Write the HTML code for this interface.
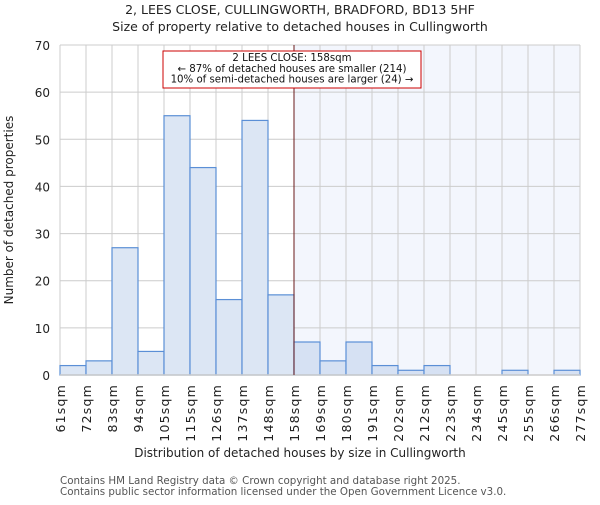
<!DOCTYPE html>
<html><head><meta charset="utf-8"><style>
body{margin:0;background:#fff;}
svg text{font-family:"DejaVu Sans","Liberation Sans",sans-serif;}
</style></head><body>
<svg id="chart" width="600" height="500" xmlns="http://www.w3.org/2000/svg">
<text x="300" y="14" text-anchor="middle" font-size="12.5" fill="#222">2, LEES CLOSE, CULLINGWORTH, BRADFORD, BD13 5HF</text>
<text x="300" y="31" text-anchor="middle" font-size="12.5" fill="#222">Size of property relative to detached houses in Cullingworth</text>
<g id="plot"></g>
<text x="300" y="457" text-anchor="middle" font-size="12" fill="#222">Distribution of detached houses by size in Cullingworth</text>
<text transform="translate(13,210) rotate(-90)" text-anchor="middle" font-size="12" fill="#222">Number of detached properties</text>
<text x="60" y="484" font-size="10.3" fill="#555">Contains HM Land Registry data © Crown copyright and database right 2025.</text>
<text x="60" y="495" font-size="10.3" fill="#555">Contains public sector information licensed under the Open Government Licence v3.0.</text>
</svg>
<script>
const edgeLabels=["61sqm","72sqm","83sqm","94sqm","105sqm","115sqm","126sqm","137sqm","148sqm","158sqm","169sqm","180sqm","191sqm","202sqm","212sqm","223sqm","234sqm","245sqm","255sqm","266sqm","277sqm"];
const counts=[2,3,27,5,55,44,16,54,17,7,3,7,2,1,2,0,0,1,0,1];
const yTicks=[0,10,20,30,40,50,60,70];
const markerIndex=9;
const X0=60,X1=580,Y0=375,Y1=45,YMAX=70;
const NS="http://www.w3.org/2000/svg";
const g=document.getElementById('plot');
const xs=i=>X0+(X1-X0)*i/counts.length;
const ys=v=>Y0-(Y0-Y1)*v/YMAX;
function mk(t,a){const e=document.createElementNS(NS,t);for(const k in a)e.setAttribute(k,a[k]);g.appendChild(e);return e;}
let e=mk('rect',{x:xs(markerIndex),y:Y1,width:X1-xs(markerIndex),height:Y0-Y1,fill:'#f3f6fd'});


yTicks.forEach(t=>{const l=mk('line',{x1:X0,x2:X1,y1:ys(t),y2:ys(t),stroke:'#ccc','stroke-width':1});


const tx=mk('text',{x:X0-10,y:ys(t)+5,'text-anchor':'end','font-size':'12',fill:'#222'});tx.textContent=t;

});
edgeLabels.forEach((s,i)=>{const l=mk('line',{x1:xs(i),x2:xs(i),y1:Y1,y2:Y0,stroke:'#ccc','stroke-width':1});


const tx=mk('text',{transform:`translate(${xs(i)+5},${Y0+9}) rotate(-90)`,'text-anchor':'end','font-size':'12.5','letter-spacing':'1.2',fill:'#222'});tx.textContent=s;

});
counts.forEach((v,i)=>{if(v<=0)return;const r=mk('rect',{x:xs(i),y:ys(v),width:xs(1)-xs(0),height:Y0-ys(v),fill:i>=markerIndex?'#d6e1f3':'#dce6f4',stroke:'#5b8fd6','stroke-width':1.2});

});
e=mk('line',{x1:X0,x2:X1,y1:Y0,y2:Y0,stroke:'#ccc','stroke-width':1.5});


e=mk('line',{x1:xs(markerIndex),x2:xs(markerIndex),y1:Y1,y2:Y0,stroke:'#6a1a1a','stroke-width':1});


e=mk('rect',{x:163,y:51,width:258,height:37,fill:'#fff',stroke:'#c00','stroke-width':1});


["2 LEES CLOSE: 158sqm","← 87% of detached houses are smaller (214)","10% of semi-detached houses are larger (24) →"].forEach((s,k)=>{const t=mk('text',{x:292,y:61+k*10.8,'text-anchor':'middle','font-size':'10.2',fill:'#111'});t.textContent=s;

});
</script>
</body></html>
